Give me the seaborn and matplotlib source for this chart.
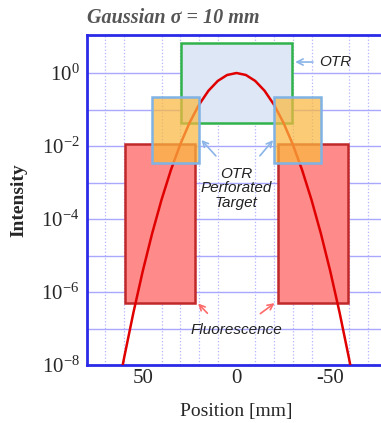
import numpy as np
import pandas as pd
import matplotlib
matplotlib.use('Agg')
import matplotlib.pyplot as plt
import seaborn as sns

# Gaussian beam profile, sigma = 10 mm
position = [-65, -60, -55, -50, -45, -40, -35, -30, -25, -20, -15, -10, -5, 0,
            5, 10, 15, 20, 25, 30, 35, 40, 45, 50, 55, 60, 65]
intensity = [6.7e-10, 1.52e-8, 2.70e-7, 3.73e-6, 4.0e-5, 3.35e-4, 2.19e-3, 1.11e-2,
             4.39e-2, 0.1353, 0.3247, 0.6065, 0.8825, 1.0,
             0.8825, 0.6065, 0.3247, 0.1353, 4.39e-2, 1.11e-2, 2.19e-3, 3.35e-4,
             4.0e-5, 3.73e-6, 2.70e-7, 1.52e-8, 6.7e-10]

# detector acceptance boxes: x range [mm] and intensity range
fluo_x = [(22, 59.5), (-59.5, -22)]
fluo_y = (5e-7, 1.1e-2)
perf_x = [(20, 45), (-45, -20)]
perf_y = (3.4e-3, 0.22)
otr_x = (-29.5, 29.5)
otr_y = (0.043, 6.6)

sns.set_style('white')
plt.rcParams['font.family'] = ['Liberation Serif', 'DejaVu Serif']
plt.rcParams['mathtext.fontset'] = 'custom'
plt.rcParams['mathtext.rm'] = 'Liberation Serif'

fig = plt.figure(figsize=(3.81, 4.23), dpi=100)
ax = fig.add_axes([86.5 / 381, 1 - 365 / 423, 300 / 381, 330 / 423])
ax.set_yscale('log')

# fluorescence boxes
for x0, x1 in fluo_x:
    ax.bar(x0, fluo_y[1] - fluo_y[0], width=x1 - x0, bottom=fluo_y[0], align='edge',
           color='#ff8a8a', edgecolor='#c0282a', linewidth=1.8, zorder=2)

# OTR box
ax.bar(otr_x[0], otr_y[1] - otr_y[0], width=otr_x[1] - otr_x[0], bottom=otr_y[0], align='edge',
       color='#dde7f5', edgecolor='#2fb34a', linewidth=1.8, zorder=2.5)

# beam profile
df = pd.DataFrame({'Position': position, 'Intensity': intensity})
sns.lineplot(data=df, x='Position', y='Intensity', color='#e00000', linewidth=1.8, ax=ax, zorder=3)

# perforated target boxes, semi-transparent over the curve
for x0, x1 in perf_x:
    ax.bar(x0, perf_y[1] - perf_y[0], width=x1 - x0, bottom=perf_y[0], align='edge',
           color=(0.98, 0.72, 0.25, 0.72), edgecolor='#7fb2e5', linewidth=1.8, zorder=4)

ax.set_xlim(80, -80)
ax.set_ylim(1e-8, 11)

# grid
ax.set_yticks([10.0 ** k for k in range(-8, 1)])
ax.set_yticklabels([r'$\mathregular{10^{%d}}$' % k if k % 2 == 0 else '' for k in range(-8, 1)])
ax.yaxis.set_minor_locator(matplotlib.ticker.NullLocator())
ax.set_xticks([50, 0, -50])
ax.set_xticklabels(['50', '0', '-50'])
ax.set_xticks(np.arange(-80, 81, 10), minor=True)
ax.grid(which='major', axis='y', color='#a8a8ff', linewidth=1.0, zorder=0)
ax.grid(which='minor', axis='x', color='#b4b4ff', linewidth=0.9, linestyle=':', zorder=0)
ax.set_axisbelow(True)
ax.tick_params(axis='both', which='both', length=0, labelsize=15, pad=5)
ax.tick_params(axis='x', pad=3)
for s in ax.spines.values():
    s.set_color('#2a2ae8')
    s.set_linewidth(2)

ax.set_xlabel('Position [mm]', fontsize=14, labelpad=11)
ax.set_ylabel('Intensity', fontsize=14, fontweight='bold', labelpad=10)

# annotations
note = dict(fontsize=11, style='italic', color='#222222', family=['Liberation Sans', 'DejaVu Sans'])
blue_arrow = dict(arrowstyle='->', color='#8ab4e8', lw=1.2)
red_arrow = dict(arrowstyle='->', color='#ff6a6a', lw=1.2)

ax.annotate('OTR', xy=(-29.8, 2.0), xytext=(-44, 2.0), ha='left', va='center',
            arrowprops=blue_arrow, zorder=6, **note)
ax.text(0, 7e-4, 'OTR\nPerforated\nTarget', ha='center', va='center', linespacing=1.05, zorder=6, **note)
ax.annotate('', xy=(19.7, 0.0166), xytext=(10, 4.7e-3), arrowprops=blue_arrow, zorder=6)
ax.annotate('', xy=(-20.5, 0.0166), xytext=(-11.5, 4.7e-3), arrowprops=blue_arrow, zorder=6)

ax.text(0, 9e-8, 'Fluorescence', ha='center', va='center', zorder=6, **note)
ax.annotate('', xy=(21.5, 5.5e-7), xytext=(14.5, 2.3e-7), arrowprops=red_arrow, zorder=6)
ax.annotate('', xy=(-21.5, 5.5e-7), xytext=(-11.5, 2.3e-7), arrowprops=red_arrow, zorder=6)

fig.text(87 / 381, 1 - 18 / 423, 'Gaussian σ = 10 mm', fontsize=14.5, fontweight='bold',
         style='italic', color='#555555', ha='left', va='center')

fig.savefig('out.png', dpi=100)
